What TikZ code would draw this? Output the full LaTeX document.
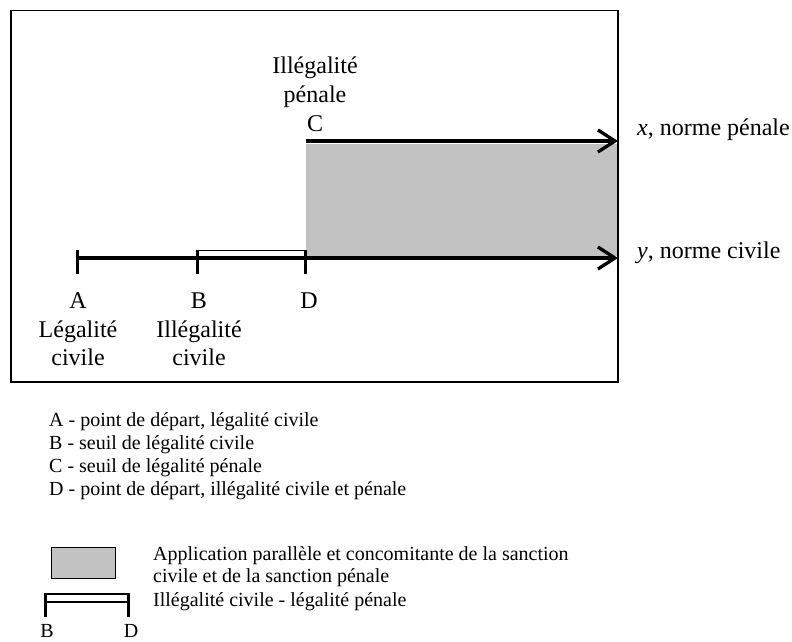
\documentclass[tikz,border=0pt]{standalone}
\usepackage{fontspec}
\setmainfont{Liberation Serif}
\usetikzlibrary{arrows.meta,calc}
\definecolor{areagray}{RGB}{194,194,194}
\begin{document}
\begin{tikzpicture}[x=1pt,y=-1pt,
  lbl/.style={font=\fontsize{24}{28}\selectfont, inner sep=0pt, anchor=base},
  lblw/.style={font=\fontsize{24}{28}\selectfont, inner sep=0pt, anchor=base west},
  leg/.style={font=\fontsize{20}{23}\selectfont, inner sep=0pt, anchor=base west},
  legc/.style={font=\fontsize{20}{23}\selectfont, inner sep=0pt, anchor=base},
  axis/.style={line width=3.3pt, -{Straight Barb[length=17pt,width=22pt]}},
  tickmark/.style={line width=3pt},
  thinline/.style={line width=1.3pt},
  frame/.style={line width=1.2pt}
]
\useasboundingbox (0,0) rectangle (792,641);
% frame
\draw[frame] (11,10.5) rectangle (618,382);
% shaded region
\fill[areagray] (306,144) rectangle (617,256);
% key points
\coordinate (C0) at (306,141);
\coordinate (Xend) at (618,141);
\coordinate (A0) at (77,258);
\coordinate (B0) at (197.5,258);
\coordinate (D0) at (305.5,258);
\coordinate (Yend) at (618,258);
% axes
\draw[axis] (C0) -- (Xend);
\draw[axis] (A0) -- (Yend);
% ticks
\draw[tickmark] (A0) ++(0,-8) -- ++(0,24);
\draw[tickmark] (B0) ++(0,-8) -- ++(0,24);
\draw[tickmark] (D0) ++(0,-8) -- ++(0,24);
% thin bracket B-D
\draw[thinline] ($(B0)+(0,-7.3)$) -- ($(D0)+(0,-7.3)$);
% labels top
\node[lbl] (t1) at (315,73) {Illégalité};
\node[lbl] (t2) at (315,102) {pénale};
\node[lbl] (lC) at (315,131) {C};
% axis labels
\node[lblw] (lx) at (637,135) {\textit{x}, norme pénale};
\node[lblw] (ly) at (637,258) {\textit{y}, norme civile};
% bottom labels
\node[lbl] (lA) at (78,308) {A};
\node[lbl] (lA2) at (78,337) {Légalité};
\node[lbl] (lA3) at (78,365) {civile};
\node[lbl] (lB) at (199,308) {B};
\node[lbl] (lB2) at (199,337) {Illégalité};
\node[lbl] (lB3) at (199,365) {civile};
\node[lbl] (lD) at (309,308) {D};
% legend text
\node[leg] (g1) at (49,426) {A - point de départ, légalité civile};
\node[leg] (g2) at (49,449) {B - seuil de légalité civile};
\node[leg] (g3) at (49,472) {C - seuil de légalité pénale};
\node[leg] (g4) at (49,495) {D - point de départ, illégalité civile et pénale};
% legend items
\draw[line width=0.8pt, fill=areagray] (51,547) rectangle (115,578);
\node[leg] (h1) at (153,560) {Application parallèle et concomitante de la sanction};
\node[leg] (h2) at (153,582) {civile et de la sanction pénale};
\coordinate (LB) at (45,593);
\coordinate (LD) at (128,593);
\draw[tickmark] (LB) -- ++(0,24);
\draw[tickmark] (LD) -- ++(0,24);
\draw[thinline] ($(LB)+(0,1)$) -- ($(LD)+(0,1)$);
\draw[thinline] ($(LB)+(0,9)$) -- ($(LD)+(0,9)$);
\node[leg] (h3) at (153,606) {Illégalité civile - légalité pénale};
\node[legc] (lLB) at (47,637.5) {B};
\node[legc] (lLD) at (131,637.5) {D};
\end{tikzpicture}
\end{document}
